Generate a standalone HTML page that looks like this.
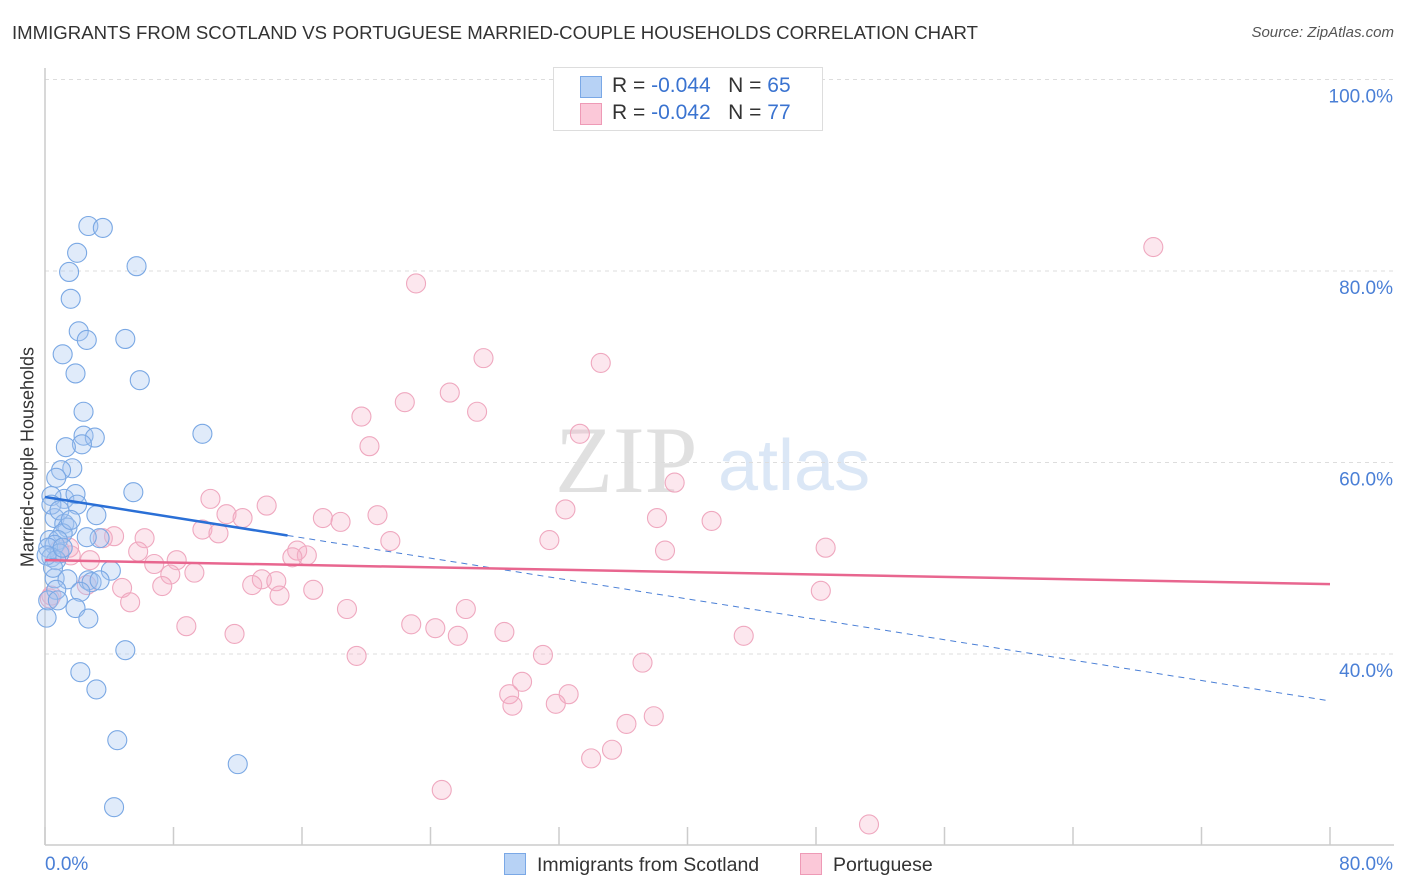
<!DOCTYPE html>
<html><head><meta charset="utf-8"><style>
body{margin:0;background:#fff;font-family:"Liberation Sans",sans-serif;}
#wrap{position:relative;width:1406px;height:892px;overflow:hidden;}
.t{position:absolute;white-space:nowrap;}
</style></head><body>
<div id="wrap">
<div class="t" style="left:12px;top:22px;font-size:18.6px;color:#333;">IMMIGRANTS FROM SCOTLAND VS PORTUGUESE MARRIED-COUPLE HOUSEHOLDS CORRELATION CHART</div>
<div class="t" style="right:12px;top:24px;font-size:15px;color:#555;font-style:italic;">Source: ZipAtlas.com</div>
<div class="t" style="left:28px;top:457px;font-size:18px;color:#333;transform:translate(-50%,-50%) rotate(-90deg);">Married-couple Households</div>
<svg id="plot" width="1406" height="892" style="position:absolute;left:0;top:0"></svg>
</div>
<script>
const blueX=[2.7,3.6,2.0,5.7,1.5,1.6,2.1,2.6,5.0,1.1,1.9,5.9,2.4,9.8,2.4,3.1,2.3,1.3,1.7,1.0,0.7,5.5,1.2,1.9,0.4,2.0,3.2,0.6,1.2,1.4,1.1,0.3,3.4,2.6,0.8,0.6,0.2,0.9,0.4,0.7,4.1,0.6,1.4,2.7,2.9,2.2,0.7,1.9,2.7,0.1,5.0,2.2,3.2,4.5,12.0,4.3,0.4,0.9,1.6,0.1,0.5,1.1,0.2,0.8,3.4];
const blueY=[84.7,84.5,81.9,80.5,79.9,77.1,73.7,72.8,72.9,71.3,69.3,68.6,65.3,63.0,62.8,62.6,61.9,61.6,59.4,59.2,58.4,56.9,56.2,56.7,56.5,55.6,54.5,54.2,53.6,53.2,52.6,51.9,52.1,52.2,51.9,51.4,51.1,50.5,50.1,49.8,48.7,47.9,47.8,47.7,47.5,46.5,46.7,44.8,43.7,43.8,40.4,38.1,36.3,31.0,28.5,24.0,55.6,55.0,54.0,50.3,49.0,51.1,45.6,45.6,47.7];
const pinkX=[69.0,23.1,27.3,34.6,25.2,22.4,19.7,26.9,20.2,33.3,39.2,10.3,13.8,32.4,20.7,11.3,38.1,41.5,17.3,12.3,18.4,9.8,10.8,4.3,3.6,6.2,21.5,31.4,48.6,38.6,5.8,1.5,0.9,15.7,16.3,15.4,8.2,6.8,9.3,7.8,13.5,14.4,12.9,2.6,4.8,7.3,16.7,14.6,0.4,48.3,5.3,18.8,26.2,8.8,22.8,24.3,28.6,11.8,25.7,43.5,31.0,19.4,37.2,29.7,28.9,32.6,29.1,31.8,37.9,36.2,35.3,34.0,24.7,51.3,0.3,1.6,2.8];
const pinkY=[82.5,78.7,70.9,70.4,67.3,66.3,64.8,65.3,61.7,63.0,57.9,56.2,55.5,55.1,54.5,54.6,54.2,53.9,54.2,54.2,53.8,53.0,52.6,52.3,52.1,52.1,51.8,51.9,51.1,50.8,50.7,51.1,50.9,50.8,50.3,50.1,49.8,49.4,48.5,48.3,47.8,47.6,47.2,47.2,46.9,47.1,46.7,46.1,46.1,46.6,45.4,44.7,44.7,42.9,43.1,42.7,42.3,42.1,41.9,41.9,39.9,39.8,39.1,37.1,35.8,35.8,34.6,34.8,33.5,32.7,30.0,29.1,25.8,22.2,45.8,50.3,49.8];
const yTicks=[40,60,80,100];
const blueTrend=[56.4,35.1];
const pinkTrend=[49.8,47.3];
const X0=45,X1=1330;
const sx=v=>X0+(v/80)*(X1-X0);
const sy=v=>1037-(v/20)*191.5;
const svg=document.getElementById('plot');
const NS='http://www.w3.org/2000/svg';
function mk(tag,attrs,parent){const e=document.createElementNS(NS,tag);for(const k in attrs)e.setAttribute(k,attrs[k]);(parent||svg).appendChild(e);return e;}
let wm=mk('text',{x:555,y:492,'font-size':95,'font-family':'Liberation Serif,serif',fill:'#e0e0e0'});wm.textContent='ZIP';


let wm2=mk('text',{x:718,y:490,'font-size':72,'font-family':'Liberation Sans,sans-serif',fill:'#dbe7f6'});wm2.textContent='atlas';


yTicks.forEach(t=>{
 const g=mk('line',{x1:X0,x2:1394,y1:sy(t),y2:sy(t),stroke:'#ddd','stroke-dasharray':'4,4'});
 
 
 const l=mk('text',{x:1393,y:sy(t)+23,'text-anchor':'end','font-size':19,fill:'#4a7fd6'});l.textContent=t.toFixed(1)+'%';
 
 
});
let ax=mk('line',{x1:X0,x2:X0,y1:68,y2:845,stroke:'#ccc','stroke-width':1.5});


let bx=mk('line',{x1:X0,x2:1394,y1:845,y2:845,stroke:'#ccc','stroke-width':1.5});


for(let i=0;i<=10;i++){const x=sx(i*8);const tk=mk('line',{x1:x,x2:x,y1:827,y2:845,stroke:'#ccc','stroke-width':1.5});
 
 }
let xl0=mk('text',{x:45,y:870,'font-size':19,fill:'#4a7fd6'});xl0.textContent='0.0%';


let xl1=mk('text',{x:1393,y:870,'text-anchor':'end','font-size':19,fill:'#4a7fd6'});xl1.textContent='80.0%';


pinkX.forEach((x,i)=>{const c=mk('circle',{cx:sx(x),cy:sy(pinkY[i]),r:9.5,fill:'rgba(245,175,198,0.3)',stroke:'#efa8bf','stroke-width':1.1});
 
 });
blueX.forEach((x,i)=>{const c=mk('circle',{cx:sx(x),cy:sy(blueY[i]),r:9.5,fill:'rgba(165,198,240,0.35)',stroke:'#7aa8e4','stroke-width':1.1});
 
 });
const bAt=v=>blueTrend[0]+(blueTrend[1]-blueTrend[0])*v/80;
let bd=mk('line',{x1:sx(15.1),y1:sy(bAt(15.1)),x2:sx(80),y2:sy(bAt(80)),stroke:'#4a7fd6','stroke-width':1,'stroke-dasharray':'6,5'});


let bs=mk('line',{x1:sx(0),y1:sy(bAt(0)),x2:sx(15.1),y2:sy(bAt(15.1)),stroke:'#2a6fd6','stroke-width':2.5});


let ps=mk('line',{x1:sx(0),y1:sy(pinkTrend[0]),x2:sx(80),y2:sy(pinkTrend[1]),stroke:'#e8668f','stroke-width':2.5});


</script>
<div class="t" style="left:553px;top:67px;width:268px;height:62px;border:1px solid #ddd;background:#fff;font-size:21px;">
 <div style="position:absolute;left:26px;top:8px;width:20px;height:20px;background:#b7d2f5;border:1px solid #7aa8e6;"></div>
 <div class="t" style="left:58px;top:6px;color:#333;">R = <span style="color:#3a73d0">-0.044</span>&nbsp;&nbsp;&nbsp;N = <span style="color:#3a73d0">65</span></div>
 <div style="position:absolute;left:26px;top:35px;width:20px;height:20px;background:#fbc8d8;border:1px solid #ee9ab6;"></div>
 <div class="t" style="left:58px;top:33px;color:#333;">R = <span style="color:#3a73d0">-0.042</span>&nbsp;&nbsp;&nbsp;N = <span style="color:#3a73d0">77</span></div>
</div>
<div class="t" style="left:504px;top:853px;font-size:19.5px;color:#333;"><span style="display:inline-block;width:20px;height:20px;background:#b7d2f5;border:1px solid #7aa8e6;vertical-align:-4px;margin-right:11px;"></span>Immigrants from Scotland</div>
<div class="t" style="left:800px;top:853px;font-size:19.5px;color:#333;"><span style="display:inline-block;width:20px;height:20px;background:#fbc8d8;border:1px solid #ee9ab6;vertical-align:-4px;margin-right:11px;"></span>Portuguese</div>
</body></html>
